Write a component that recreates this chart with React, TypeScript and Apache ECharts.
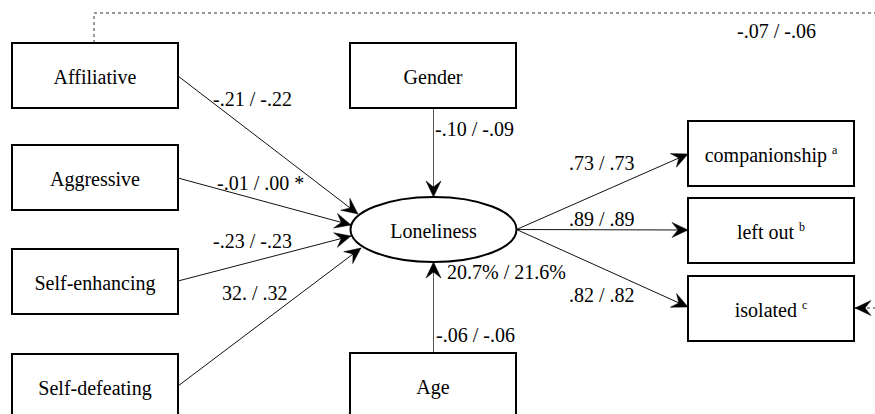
import React, { useEffect, useRef } from "react";
import * as echarts from "echarts";

// ---- content ----
const predictors = ["Affiliative", "Aggressive", "Self-enhancing", "Self-defeating"];
const predictorCoefs = ["-.21 / -.22", "-.01 / .00 *", "-.23 / -.23", "32. / .32"];
const covariates = ["Gender", "Age"];
const covariateCoefs = ["-.10 / -.09", "-.06 / -.06"];
const outcome = "Loneliness";
const explainedVariance = "20.7% / 21.6%";
const indicators = ["companionship", "left out", "isolated"];
const indicatorSups = ["a", "b", "c"];
const loadings = [".73 / .73", ".89 / .89", ".82 / .82"];
const residualCovariance = "-.07 / -.06";

// ---- layout ----
const FONT_MAIN = "20px 'Liberation Serif', 'Times New Roman', serif";
const FONT_SUP = "12px 'Liberation Serif', 'Times New Roman', serif";
const BOX_W = 166;
const BOX_H = 65;
const predBoxX = 12;
const predBoxTops = [43, 145, 249, 354];
const predLineStartY = [76, 178, 281, 386];
const predTips: [number, number][] = [[358, 214], [351, 225], [351, 236], [361, 248]];
const predLabelPos: [number, number][] = [[213, 99], [217, 183], [213, 241], [222, 293]];
const covBoxX = 350;
const covBoxTops = [43, 353];
const covLabelPos: [number, number][] = [[435, 129], [436, 335]];
const ell = { cx: 433.5, cy: 229.5, rx: 83, ry: 32.5 };
const indBoxX = 688;
const indBoxTops = [121, 198, 276];
const indTipY = [154, 230, 307];
const loadLabelPos: [number, number][] = [[569, 163], [569, 219], [569, 295]];

let measureCtx: CanvasRenderingContext2D | null = null;
function measure(text: string, font: string) {
  if (!measureCtx) measureCtx = document.createElement("canvas").getContext("2d");
  if (!measureCtx) return text.length * 9;
  measureCtx.font = font;
  return measureCtx.measureText(text).width;
}

function arrowHead(tip: [number, number], from: [number, number], color = "#000") {
  const dx = tip[0] - from[0];
  const dy = tip[1] - from[1];
  const len = Math.hypot(dx, dy);
  const ux = dx / len, uy = dy / len;
  const nx = -uy, ny = ux;
  const L = 16, W = 7.5, N = 10;
  return {
    type: "polygon",
    shape: {
      points: [
        tip,
        [tip[0] - L * ux + W * nx, tip[1] - L * uy + W * ny],
        [tip[0] - N * ux, tip[1] - N * uy],
        [tip[0] - L * ux - W * nx, tip[1] - L * uy - W * ny],
      ],
    },
    style: { fill: color, stroke: color, lineWidth: 0.5 },
    z: 5,
  };
}

function arrow(from: [number, number], tip: [number, number], color = "#111", dashed = false) {
  return [
    {
      type: "line",
      shape: { x1: from[0], y1: from[1], x2: tip[0], y2: tip[1] },
      style: { stroke: color, lineWidth: 1, lineDash: dashed ? [3, 3] : null },
      z: 2,
    },
    arrowHead(tip, from, "#000"),
  ];
}

function plainText(x: number, y: number, text: string, align: string, font = FONT_MAIN) {
  return {
    type: "text",
    x,
    y,
    style: { text, font, fill: "#000", align, verticalAlign: "middle" },
    z: 6,
  };
}

function box(x: number, y: number, label: string, sup?: string) {
  const els: any[] = [
    {
      type: "rect",
      shape: { x, y, width: BOX_W, height: BOX_H },
      style: { fill: "#fff", stroke: "#000", lineWidth: 2 },
      z: 3,
    },
  ];
  const cx = x + BOX_W / 2;
  const cy = y + BOX_H / 2 + 1;
  if (sup) {
    const wMain = measure(label, FONT_MAIN);
    const wSup = measure(sup, FONT_SUP);
    const gap = 5;
    const start = cx - (wMain + gap + wSup) / 2;
    els.push(plainText(start, cy, label, "left"));
    els.push(plainText(start + wMain + gap, cy - 5, sup, "left", FONT_SUP));
  } else {
    els.push(plainText(cx, cy, label, "center"));
  }
  return els;
}

export default function App() {
  const ref = useRef<HTMLDivElement>(null);
  useEffect(() => {
    if (!ref.current) return;
    const chart = echarts.init(ref.current, null, { renderer: "svg" });
    const g: any[] = [];

    // dashed residual covariance path
    g.push({
      type: "polyline",
      shape: { points: [[94, 43], [94, 13], [876, 13]] },
      style: { stroke: "#333", lineWidth: 1, lineDash: [3, 3], fill: null },
      z: 1,
    });
    g.push(plainText(737, 31, residualCovariance, "left"));
    g.push(...arrow([876, 308], [855, 308], "#333", true));

    // predictors
    predictors.forEach((p, i) => {
      g.push(...box(predBoxX, predBoxTops[i], p));
      g.push(...arrow([predBoxX + BOX_W, predLineStartY[i]], predTips[i]));
      g.push(plainText(predLabelPos[i][0], predLabelPos[i][1], predictorCoefs[i], "left"));
    });

    // covariates
    covariates.forEach((c, i) => {
      g.push(...box(covBoxX, covBoxTops[i], c));
      const fromY = i === 0 ? covBoxTops[i] + BOX_H : covBoxTops[i];
      const tipY = i === 0 ? ell.cy - ell.ry : ell.cy + ell.ry;
      g.push(...arrow([ell.cx, fromY], [ell.cx, tipY], "#555"));
      g.push(plainText(covLabelPos[i][0], covLabelPos[i][1], covariateCoefs[i], "left"));
    });

    // outcome ellipse
    g.push({
      type: "ellipse",
      shape: { cx: ell.cx, cy: ell.cy, rx: ell.rx, ry: ell.ry },
      style: { fill: "#fff", stroke: "#000", lineWidth: 2 },
      z: 3,
    });
    g.push(plainText(ell.cx, ell.cy + 1, outcome, "center"));
    g.push(plainText(447, 272, explainedVariance, "left"));

    // indicators
    indicators.forEach((ind, i) => {
      g.push(...box(indBoxX, indBoxTops[i], ind, indicatorSups[i]));
      g.push(...arrow([ell.cx + ell.rx, ell.cy], [indBoxX, indTipY[i]]));
      g.push(plainText(loadLabelPos[i][0], loadLabelPos[i][1], loadings[i], "left"));
    });

    chart.setOption({
      animation: false,
      backgroundColor: "#fff",
      graphic: { elements: g },
    });
    return () => chart.dispose();
  }, []);

  return (
    <div
      ref={ref}
      style={{ position: "fixed", left: 0, top: 0, width: 875, height: 414, background: "#fff" }}
    />
  );
}
